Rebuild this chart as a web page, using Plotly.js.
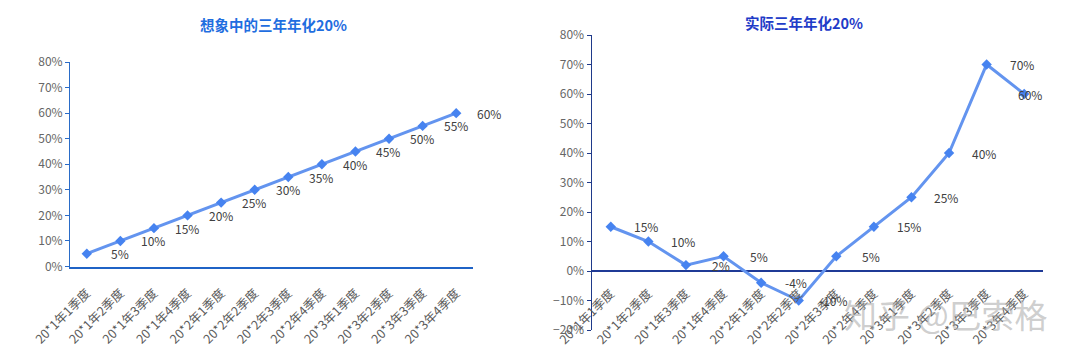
<!DOCTYPE html>
<html>
<head>
<meta charset="utf-8">
<script src="https://cdn.plot.ly/plotly-3.0.1.min.js"></script>
<style>html,body{margin:0;padding:0;background:#fff;}#chart{width:1073px;height:355px;}</style>
</head>
<body>
<div id="chart"></div>
<script>
const categories = ["20*1年1季度","20*1年2季度","20*1年3季度","20*1年4季度","20*2年1季度","20*2年2季度","20*2年3季度","20*2年4季度","20*3年1季度","20*3年2季度","20*3年3季度","20*3年4季度"];
const imagined = [5,10,15,20,25,30,35,40,45,50,55,60];
const actual = [15,10,2,5,-4,-10,5,15,25,40,70,60];
const leftTitle = "想象中的三年年化20%";
const rightTitle = "实际三年年化20%";
const watermark = "知乎 @巴索格";

const W = 1073, H = 355;
const px = v => v / W, py = v => 1 - v / H;

const lineStyle = {color: "#6394ef", width: 3};
const markerStyle = {symbol: "diamond", size: 8, color: "#4683f0"};
const tickFont = {family: "Noto Sans CJK SC, sans-serif", size: 12.5, color: "#5a5a5a"};
const yFont = {family: "Noto Sans CJK SC, sans-serif", size: 12, color: "#666666"};
const labelFont = {family: "Noto Sans CJK SC, sans-serif", size: 12, color: "#404040"};

const traces = [
  {x: categories, y: imagined, xaxis: "x", yaxis: "y", type: "scatter", mode: "lines+markers",
   line: lineStyle, marker: markerStyle, hoverinfo: "skip"},
  {x: categories, y: actual, xaxis: "x2", yaxis: "y2", type: "scatter", mode: "lines+markers",
   line: lineStyle, marker: markerStyle, hoverinfo: "skip"}
];

const annotations = [];
imagined.forEach((v, i) => annotations.push({xref: "x", yref: "y", x: categories[i], y: v, text: v + "%",
  showarrow: false, xanchor: "center", yanchor: "middle", xshift: 33, font: labelFont}));
actual.forEach((v, i) => annotations.push({xref: "x2", yref: "y2", x: categories[i], y: v, text: v + "%",
  showarrow: false, xanchor: "center", yanchor: "middle", xshift: i === actual.length - 1 ? 6 : 35, font: labelFont}));
annotations.push({xref: "paper", yref: "paper", x: px(273), y: py(24), xanchor: "center", yanchor: "middle",
  text: "<b>" + leftTitle + "</b>",
  showarrow: false, font: {family: "Noto Sans CJK SC, sans-serif", size: 14.5, color: "#1f6ee0"}});
annotations.push({xref: "paper", yref: "paper", x: px(804), y: py(22), xanchor: "center", yanchor: "middle",
  text: "<b>" + rightTitle + "</b>",
  showarrow: false, font: {family: "Noto Sans CJK SC, sans-serif", size: 14.5, color: "#1f3cc8"}});
annotations.push({xref: "paper", yref: "paper", x: px(946), y: py(314), xanchor: "center", yanchor: "middle",
  text: watermark,
  showarrow: false, font: {family: "Noto Sans CJK SC, sans-serif", size: 33, color: "rgba(165,165,165,0.55)"}});

const layout = {
  width: W, height: H,
  margin: {l: 0, r: 0, t: 0, b: 0},
  paper_bgcolor: "#ffffff", plot_bgcolor: "rgba(0,0,0,0)",
  showlegend: false,
  xaxis: {domain: [px(70), px(473)], anchor: "y", type: "category", range: [-0.5, 11.5],
    showgrid: false, zeroline: false, showline: true, linecolor: "#1f63c6", linewidth: 2.5,
    ticks: "", tickangle: -45, tickfont: tickFont, ticklabelstandoff: 12},
  yaxis: {domain: [py(266.5), py(62)], anchor: "x", range: [0, 80], dtick: 10, ticksuffix: "%",
    showgrid: false, zeroline: false, showline: true, linecolor: "#2a6cc8", linewidth: 1,
    ticks: "outside", ticklen: 4, tickcolor: "#2a6cc8", tickfont: yFont},
  xaxis2: {domain: [px(592), px(1043)], anchor: "free", position: py(271), type: "category", range: [-0.5, 11.5],
    showgrid: false, zeroline: false, showline: false,
    ticks: "", tickangle: -45, tickfont: tickFont, ticklabelstandoff: 12},
  yaxis2: {domain: [py(330), py(35)], anchor: "x2", range: [-20, 80], dtick: 10, ticksuffix: "%",
    showgrid: false, zeroline: true, zerolinecolor: "#1f3a96", zerolinewidth: 2.5,
    showline: true, linecolor: "#1f3a8a", linewidth: 1.5,
    ticks: "outside", ticklen: 4, tickcolor: "#1f3a8a", tickfont: yFont},
  annotations: annotations
};

Plotly.newPlot("chart", traces, layout, {displayModeBar: false, staticPlot: true});
</script>
</body>
</html>
